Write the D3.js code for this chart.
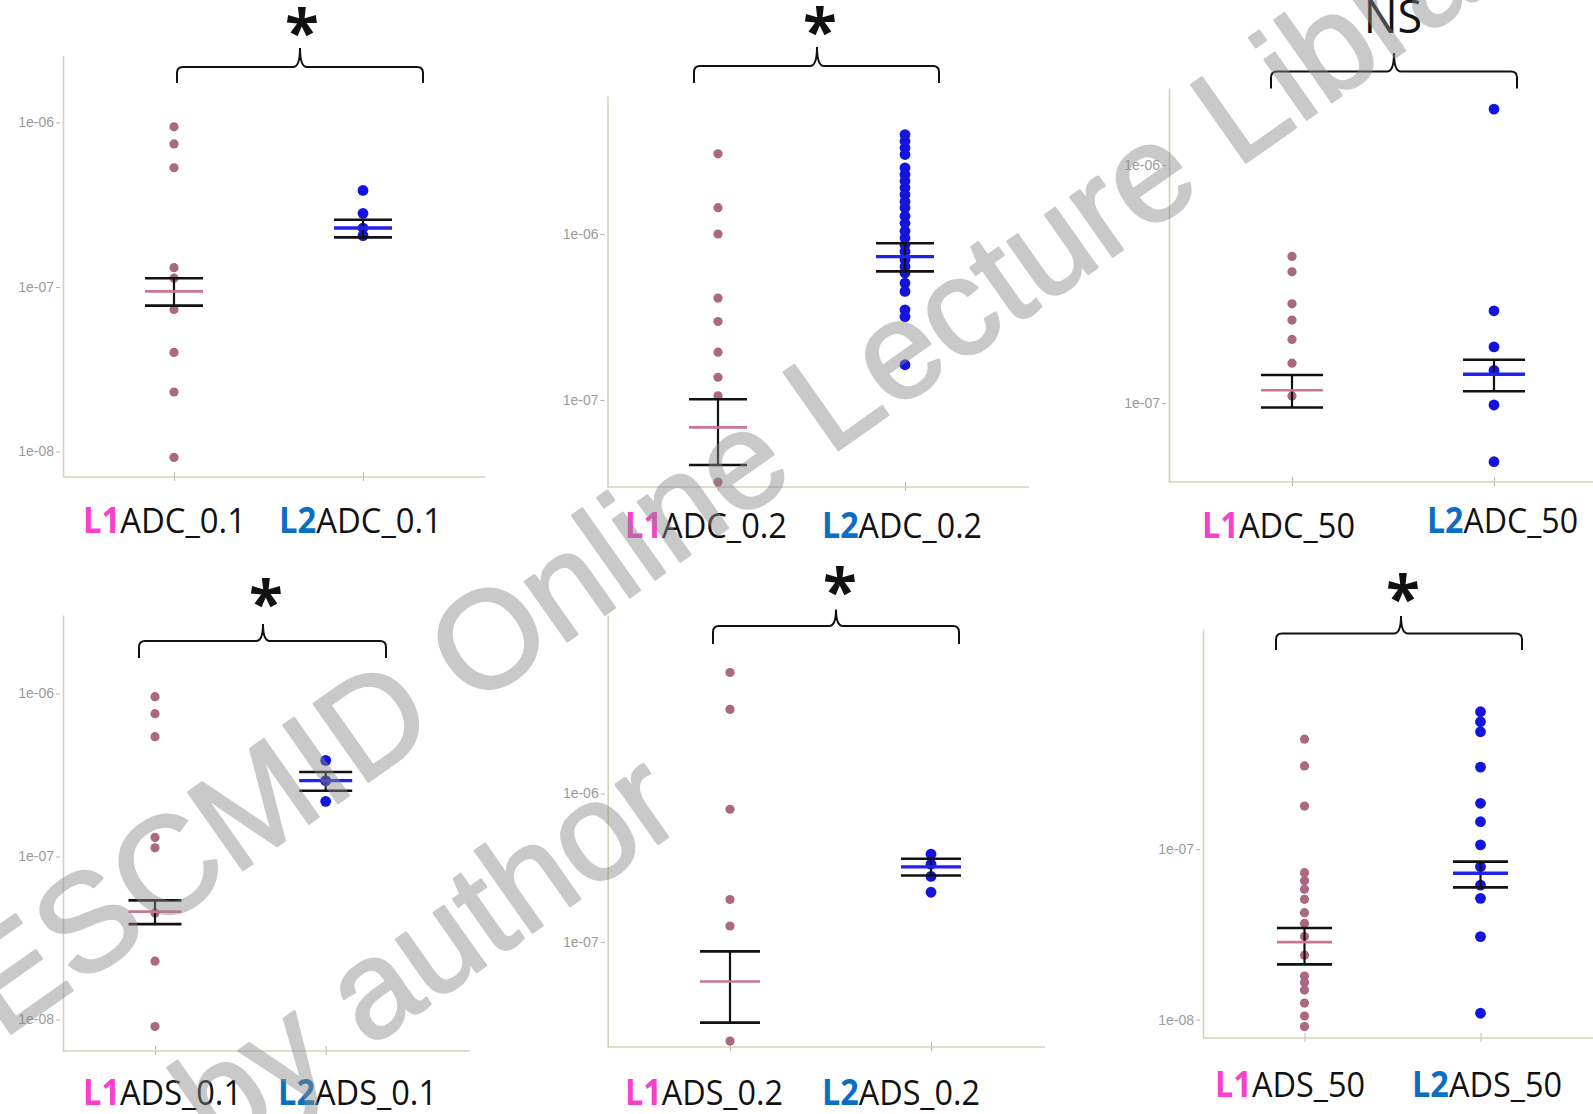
<!DOCTYPE html>
<html><head><meta charset="utf-8">
<script src="https://cdn.jsdelivr.net/npm/d3@7"></script>
<style>body{margin:0;background:#fff}svg{display:block}</style>
</head><body>
<svg id="c" width="1593" height="1114"></svg>
<script>
// ---------------- DATA ----------------
const panelNames = ["ADC_0.1", "ADC_0.2", "ADC_50", "ADS_0.1", "ADS_0.2", "ADS_50"];
const groupPrefixes = ["L1", "L2"];
const significance = ["*", "*", "NS", "*", "*", "*"];

const yTickValues = [[1e-6, 1e-7, 1e-8], [1e-6, 1e-7], [1e-6, 1e-7], [1e-6, 1e-7, 1e-8], [1e-6, 1e-7], [1e-7, 1e-8]];
const yTickLabels = [["1e-06", "1e-07", "1e-08"], ["1e-06", "1e-07"], ["1e-06", "1e-07"], ["1e-06", "1e-07", "1e-08"], ["1e-06", "1e-07"], ["1e-07", "1e-08"]];
const yLimits = [[7.0e-9, 2.55e-6], [2.99e-8, 6.78e-6], [4.65e-8, 2.11e-6], [6.41e-9, 3.03e-6], [1.96e-8, 1.59e-5], [7.8e-9, 1.96e-6]];

const l1Values = [
  [9.4e-7, 7.4e-7, 5.3e-7, 1.31e-7, 1.13e-7, 7.3e-8, 4.0e-8, 2.3e-8, 9.2e-9],
  [3.04e-6, 1.44e-6, 1.0e-6, 4.11e-7, 2.97e-7, 1.94e-7, 1.37e-7, 1.06e-7, 3.2e-8],
  [4.13e-7, 3.56e-7, 2.61e-7, 2.23e-7, 1.85e-7, 1.47e-7, 1.07e-7],
  [9.56e-7, 7.52e-7, 5.43e-7, 1.31e-7, 1.13e-7, 4.5e-8, 2.28e-8, 9.06e-9],
  [6.52e-6, 3.68e-6, 7.82e-7, 1.93e-7, 1.28e-7, 2.15e-8],
  [4.42e-7, 3.08e-7, 1.79e-7, 7.28e-8, 6.53e-8, 5.82e-8, 5.08e-8, 4.24e-8, 3.67e-8, 3.07e-8, 2.39e-8, 1.8e-8, 1.65e-8, 1.49e-8, 1.25e-8, 1.05e-8, 9.1e-9]
];
const l2Values = [
  [3.86e-7, 2.8e-7, 2.28e-7, 2.05e-7],
  [3.97e-6, 3.62e-6, 3.30e-6, 3.01e-6, 2.50e-6, 2.28e-6, 2.08e-6, 1.90e-6, 1.73e-6, 1.57e-6, 1.44e-6, 1.28e-6, 1.16e-6, 1.04e-6, 9.46e-7, 8.61e-7, 7.85e-7, 7.0e-7, 6.37e-7, 5.82e-7, 5.06e-7, 4.51e-7, 3.49e-7, 3.18e-7, 1.63e-7],
  [1.72e-6, 2.44e-7, 1.72e-7, 1.37e-7, 9.8e-8, 5.66e-8],
  [3.89e-7, 2.92e-7, 2.18e-7],
  [3.9e-7, 3.34e-7, 2.76e-7, 2.16e-7],
  [6.41e-7, 5.6e-7, 4.89e-7, 3.03e-7, 1.86e-7, 1.45e-7, 1.06e-7, 7.9e-8, 6.16e-8, 5.15e-8, 3.07e-8, 1.09e-8]
];
// [mean, lower, upper]
const l1Stats = [[9.4e-8, 7.7e-8, 1.13e-7], [6.84e-8, 4.06e-8, 1.01e-7], [1.13e-7, 9.57e-8, 1.31e-7], [4.59e-8, 3.85e-8, 5.38e-8], [5.41e-8, 2.86e-8, 8.63e-8], [2.85e-8, 2.11e-8, 3.45e-8]];
const l2Stats = [[2.28e-7, 2.0e-7, 2.56e-7], [7.3e-7, 5.95e-7, 8.8e-7], [1.32e-7, 1.12e-7, 1.52e-7], [2.92e-7, 2.53e-7, 3.3e-7], [3.2e-7, 2.8e-7, 3.63e-7], [7.23e-8, 5.97e-8, 8.45e-8]];

const watermarkLines = ["ESCMID Online Lecture Library", "\u00a9 by author"];

// ---------------- LAYOUT ----------------
const layout = [
  {axisX: 63, top: 55.5, bottom: 477, right: 485, groupX: [174, 363], half: 29,
   br: {l: 177, r: 423, h: 67, e: 83, cx: 300, t: 48}, mark: {x: 302, y: 23}, labX: [164.5, 360.5], labY: [533, 533], labW: [163, 163]},
  {axisX: 607.5, top: 96, bottom: 487, right: 1029, groupX: [718, 905], half: 29,
   br: {l: 694, r: 939, h: 66, e: 83, cx: 817, t: 47}, mark: {x: 820, y: 22}, labX: [706, 902], labY: [538, 538], labW: [162, 160]},
  {axisX: 1169, top: 88, bottom: 482, right: 1593, groupX: [1292, 1494], half: 31,
   br: {l: 1271, r: 1517, h: 71.6, e: 88.5, cx: 1394, t: 53}, mark: {x: 1393, y: 32.7}, labX: [1278.5, 1502.5], labY: [538, 533], labW: [153, 151]},
  {axisX: 63, top: 615, bottom: 1051, right: 470, groupX: [155, 325.7], half: 26.5,
   br: {l: 139, r: 386, h: 641, e: 658, cx: 263, t: 624}, mark: {x: 266, y: 594}, labX: [162.5, 357.5], labY: [1105, 1105], labW: [159, 159]},
  {axisX: 607.7, top: 615, bottom: 1047, right: 1045, groupX: [730, 931], half: 30,
   br: {l: 713, r: 959, h: 626, e: 644, cx: 836, t: 609.5}, mark: {x: 840, y: 582}, labX: [704, 901], labY: [1105, 1105], labW: [158, 158]},
  {axisX: 1203, top: 629, bottom: 1038, right: 1593, groupX: [1304.5, 1480.5], half: 27.5,
   br: {l: 1276, r: 1522, h: 633.5, e: 650, cx: 1401, t: 616}, mark: {x: 1403, y: 589}, labX: [1290, 1487], labY: [1097, 1097], labW: [150, 150]}
];

const AXIS_COL = "#d6d2ba";
const DOT1 = "#ab6882", DOT2 = "#1414dc";
const MEAN1 = "#c9768f", MEAN2 = "#2222f0";
const PFX_COL = {L1: "#fa3fcd", L2: "#0a6fc2"};

const svg = d3.select("#c");

panelNames.forEach((name, i) => {
  const L = layout[i];
  const y = d3.scaleLog().domain(yLimits[i]).range([L.bottom, L.top]);
  const x = d3.scalePoint().domain(groupPrefixes).range(L.groupX);
  const g = svg.append("g");

  // y axis
  const ya = g.append("g").attr("transform", `translate(${L.axisX},0)`)
    .call(d3.axisLeft(y).tickValues(yTickValues[i]).tickFormat((d, j) => yTickLabels[i][j])
      .tickSize(4).tickPadding(3).tickSizeOuter(0));
  ya.select(".domain").attr("stroke", AXIS_COL).attr("stroke-width", 1.6);
  ya.selectAll(".tick line").attr("stroke", "#b0b0b0").attr("x1", -7).attr("x2", -3);
  ya.selectAll(".tick text").attr("fill", "#9a9a9a").attr("x", -9)
    .style("font-family", "'Liberation Sans', Arial, sans-serif").style("font-size", "14px");

  // x axis
  const xa = g.append("g").attr("transform", `translate(0,${L.bottom})`)
    .call(d3.axisBottom(x).tickSize(4).tickFormat(""));
  xa.select(".domain").remove();
  xa.selectAll(".tick line").attr("y1", -5).attr("y2", 4).attr("stroke", "#b8b8b8");
  g.append("line").attr("x1", L.axisX).attr("x2", L.right).attr("y1", L.bottom).attr("y2", L.bottom)
    .attr("stroke", AXIS_COL).attr("stroke-width", 1.6);

  // dots
  g.selectAll("circle.l1").data(l1Values[i]).join("circle").attr("class", "l1")
    .attr("cx", x("L1")).attr("cy", d => y(d)).attr("r", 4.6).attr("fill", DOT1);
  g.selectAll("circle.l2").data(l2Values[i]).join("circle").attr("class", "l2")
    .attr("cx", x("L2")).attr("cy", d => y(d)).attr("r", 5.4).attr("fill", DOT2);

  // error bars
  [["L1", l1Stats[i], MEAN1, 2.6], ["L2", l2Stats[i], MEAN2, 3.4]].forEach(([grp, s, col, mw]) => {
    const cx = x(grp);
    const [m, lo, hi] = s;
    g.append("line").attr("x1", cx).attr("x2", cx).attr("y1", y(hi)).attr("y2", y(lo))
      .attr("stroke", "#111").attr("stroke-width", 2.2);
    [hi, lo].forEach(v => g.append("line").attr("x1", cx - L.half).attr("x2", cx + L.half)
      .attr("y1", y(v)).attr("y2", y(v)).attr("stroke", "#111").attr("stroke-width", 2.6));
    g.append("line").attr("x1", cx - L.half).attr("x2", cx + L.half)
      .attr("y1", y(m)).attr("y2", y(m)).attr("stroke", col).attr("stroke-width", mw);
  });

  // bracket
  const b = L.br, r = 6;
  const p = `M${b.l},${b.e} L${b.l},${b.h + r} Q${b.l},${b.h} ${b.l + r},${b.h} L${b.cx - 7},${b.h} `
    + `Q${b.cx},${b.h} ${b.cx},${b.t} Q${b.cx},${b.h} ${b.cx + 7},${b.h} L${b.r - r},${b.h} `
    + `Q${b.r},${b.h} ${b.r},${b.h + r} L${b.r},${b.e}`;
  g.append("path").attr("d", p).attr("fill", "none").attr("stroke", "#111").attr("stroke-width", 2);

  // significance mark
  if (significance[i] === "*") {
    g.append("text").attr("x", L.mark.x).attr("y", L.mark.y + 32).attr("text-anchor", "middle")
      .style("font-family", "'Open Sans', sans-serif").style("font-weight", 700).style("font-size", "62px")
      .attr("fill", "#111").text(significance[i]);
  } else {
    g.append("text").attr("x", L.mark.x).attr("y", L.mark.y).attr("text-anchor", "middle")
      .style("font-family", "'Open Sans', sans-serif").style("font-size", "45px")
      .attr("fill", "#111").text(significance[i]);
  }

  // category labels
  groupPrefixes.forEach((pf, j) => {
    const t = g.append("text").attr("x", L.labX[j]).attr("y", L.labY[j]).attr("text-anchor", "middle")
      .attr("textLength", L.labW[j]).attr("lengthAdjust", "spacingAndGlyphs")
      .style("font-family", "'Open Sans', sans-serif").style("font-size", "35px");
    t.append("tspan").attr("fill", PFX_COL[pf]).style("font-weight", 700).text(pf);
    t.append("tspan").attr("fill", "#111").text(name);
  });
});

// watermark (semi-transparent, on top)
const wm = svg.append("g").attr("transform", "translate(2,1040) rotate(-35.2)")
  .attr("opacity", 0.46)
  .style("font-family", "'Liberation Sans', Arial, sans-serif").style("font-size", "138px")
  .attr("fill", "#8a8a8a").attr("stroke", "#8a8a8a").attr("stroke-width", 2.5)
  .attr("stroke-linejoin", "round");
watermarkLines.forEach((s, k) => wm.append("text").attr("x", k ? -30 : 0).attr("y", k * 218).text(s));
</script>
</body></html>
